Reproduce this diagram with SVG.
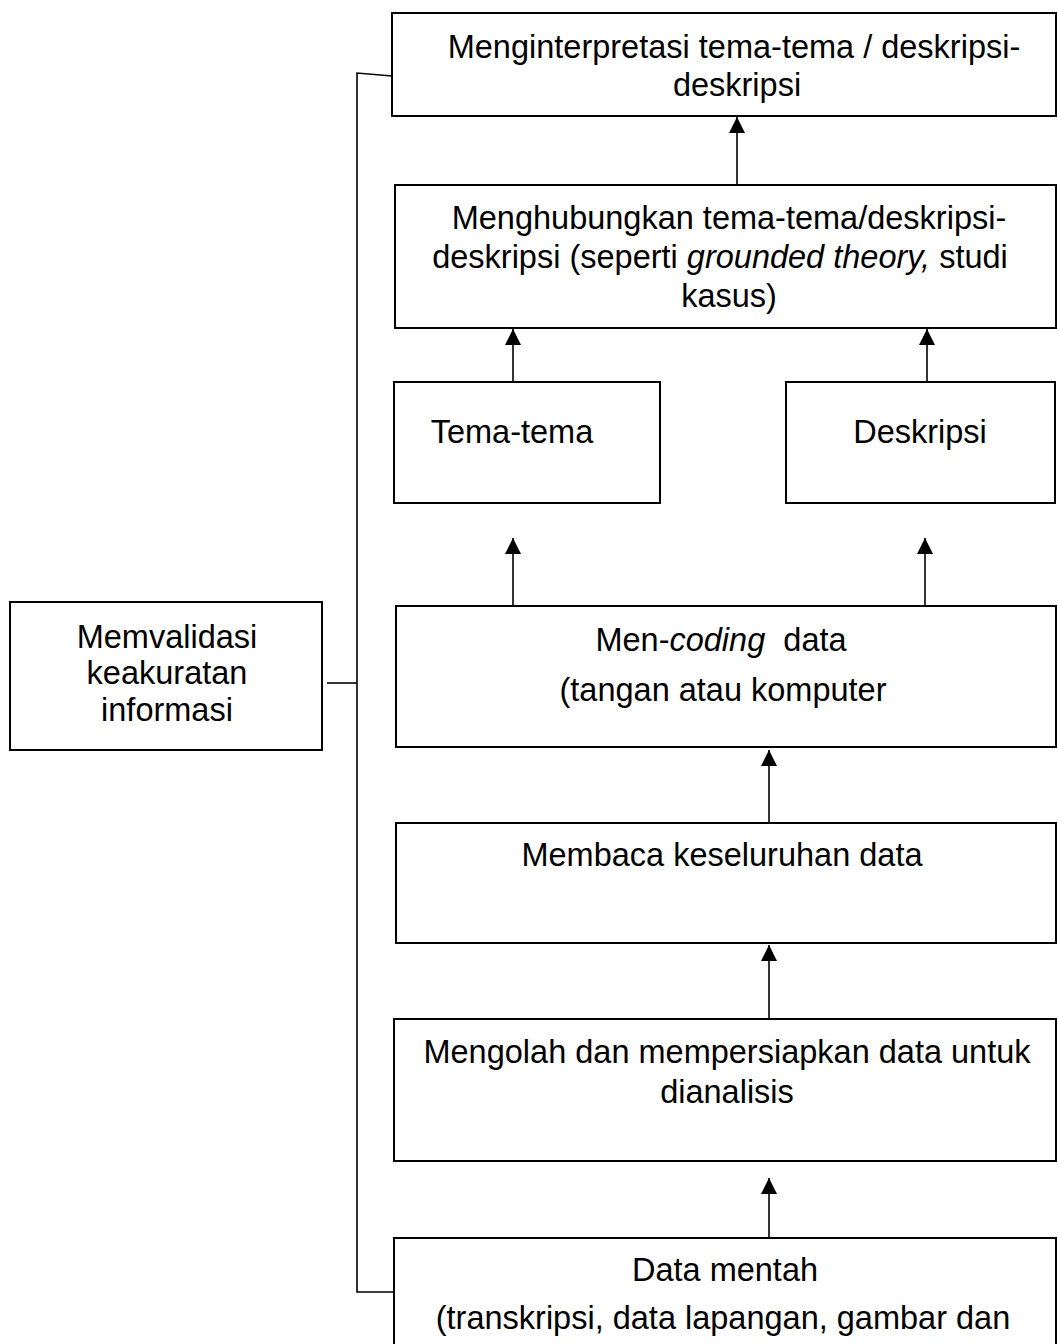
<svg xmlns="http://www.w3.org/2000/svg" width="1058" height="1344" viewBox="0 0 1058 1344">
<style>
.box{fill:#fff;stroke:#000;stroke-width:2}
.t{font-family:"Liberation Sans",Arial,sans-serif;font-size:32.5px;fill:#000;text-anchor:middle}
.ln{stroke:#000;stroke-width:1.6;fill:none}
</style>
<defs>
<marker id="ah" viewBox="0 0 10 10" refX="10" refY="5" markerWidth="16" markerHeight="16" markerUnits="userSpaceOnUse" orient="auto">
<path d="M0,0 L10,5 L0,10 z" fill="#000"/>
</marker>
</defs>
<g id="connectors">
<line class="ln" x1="737" y1="185" x2="737" y2="117" marker-end="url(#ah)"/>
<line class="ln" x1="513" y1="382" x2="513" y2="329" marker-end="url(#ah)"/>
<line class="ln" x1="927" y1="382" x2="927" y2="329" marker-end="url(#ah)"/>
<line class="ln" x1="513" y1="606" x2="513" y2="538" marker-end="url(#ah)"/>
<line class="ln" x1="925" y1="606" x2="925" y2="538" marker-end="url(#ah)"/>
<line class="ln" x1="769" y1="823" x2="769" y2="750" marker-end="url(#ah)"/>
<line class="ln" x1="769" y1="1019" x2="769" y2="945" marker-end="url(#ah)"/>
<line class="ln" x1="769" y1="1238" x2="769" y2="1178" marker-end="url(#ah)"/>
<polyline class="ln" points="392,76 357,73 357,1292 394,1292"/>
<line class="ln" x1="327" y1="683" x2="357" y2="683"/>
</g>
<g id="n1"><rect class="box" x="392" y="13" width="664" height="103"/>
<text class="t" x="734" y="58">Menginterpretasi tema-tema / deskripsi-</text>
<text class="t" x="737" y="96">deskripsi</text></g>
<g id="n2"><rect class="box" x="395" y="185" width="661" height="143"/>
<text class="t" x="729" y="229">Menghubungkan tema-tema/deskripsi-</text>
<text class="t" x="720" y="268">deskripsi (seperti <tspan font-style="italic">grounded theory,</tspan> studi</text>
<text class="t" x="729" y="307">kasus)</text></g>
<g id="n3"><rect class="box" x="394" y="382" width="266" height="121"/>
<text class="t" x="512" y="443">Tema-tema</text></g>
<g id="n4"><rect class="box" x="786" y="382" width="269" height="121"/>
<text class="t" x="920" y="443">Deskripsi</text></g>
<g id="n5"><rect class="box" x="396" y="606" width="660" height="141"/>
<text class="t" x="721" y="651" xml:space="preserve">Men-<tspan font-style="italic">coding</tspan>  data</text>
<text class="t" x="723" y="701">(tangan atau komputer</text></g>
<g id="n6"><rect class="box" x="396" y="823" width="660" height="120"/>
<text class="t" x="722" y="866">Membaca keseluruhan data</text></g>
<g id="n7"><rect class="box" x="394" y="1019" width="662" height="142"/>
<text class="t" x="727" y="1063">Mengolah dan mempersiapkan data untuk</text>
<text class="t" x="727" y="1103">dianalisis</text></g>
<g id="n8"><rect class="box" x="394" y="1238" width="662" height="120"/>
<text class="t" x="725" y="1281">Data mentah</text>
<text class="t" x="723" y="1329">(transkripsi, data lapangan, gambar dan</text></g>
<g id="n9"><rect class="box" x="10" y="602" width="312" height="148"/>
<text class="t" x="167" y="648">Memvalidasi</text>
<text class="t" x="167" y="684">keakuratan</text>
<text class="t" x="167" y="721">informasi</text></g>
</svg>
